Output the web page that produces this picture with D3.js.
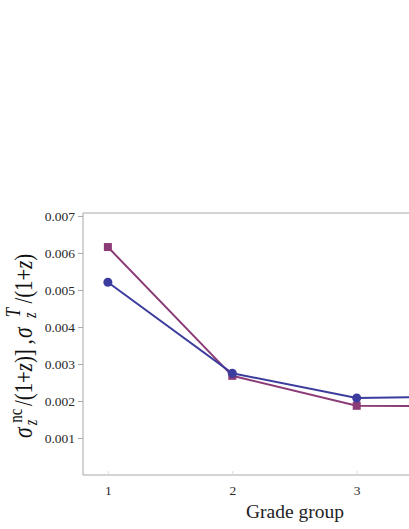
<!DOCTYPE html>
<html>
<head>
<meta charset="utf-8">
<script src="https://cdn.jsdelivr.net/npm/d3@7"></script>
<style>
    body { margin: 0; background: #fff; overflow: hidden; }
    svg { display: block; }
</style>
</head>
<body>
<div id="chart"></div>
<script>
// data
let grades = [1, 2, 3, 4];
let sigmaNC = [0.00521, 0.00275, 0.00208, 0.00213];   // blue, circles
let sigmaT = [0.00616, 0.00268, 0.00187, 0.00186];    // purple, squares
let yTicks = [0.001, 0.002, 0.003, 0.004, 0.005, 0.006, 0.007];
let xTicks = [1, 2, 3];

let width = 409, height = 529;
let serif = "Liberation Serif, DejaVu Serif, serif";

let svg = d3.select("#chart").append("svg")
    .attr("width", width)
    .attr("height", height);

// scales (plot runs past the right edge of the window, as in the original)
let x = d3.scaleLinear().domain([0.8, 4.2]).range([83, 506]);
let y = d3.scaleLinear().domain([0, 0.00708]).range([475, 213]);

let frameColor = "#a8a8a8";

// frame: left, bottom, top
svg.append("line").attr("x1", 83).attr("x2", 83).attr("y1", y(0)).attr("y2", y(0.00708))
    .attr("stroke", frameColor).attr("stroke-width", 1);
svg.append("line").attr("x1", 83).attr("x2", x(4.2)).attr("y1", y(0)).attr("y2", y(0))
    .attr("stroke", frameColor).attr("stroke-width", 1);
svg.append("line").attr("x1", 83).attr("x2", x(4.2)).attr("y1", y(0.00708)).attr("y2", y(0.00708))
    .attr("stroke", frameColor).attr("stroke-width", 1);

// y axis
let yAxis = d3.axisLeft(y)
    .tickValues(yTicks)
    .tickSize(5)
    .tickPadding(3)
    .tickFormat(d3.format(".3f"));

let yg = svg.append("g")
    .attr("transform", "translate(83,0)")
    .call(yAxis)
    .attr("font-family", serif);
yg.select(".domain").remove();
yg.selectAll(".tick line").attr("stroke", frameColor);
yg.selectAll(".tick text").attr("font-family", serif).attr("font-size", 13.5).attr("fill", "#2a2a2a");

// x axis, ticks point inward
let xAxis = d3.axisBottom(x)
    .tickValues(xTicks)
    .tickSize(-4)
    .tickPadding(10)
    .tickFormat(d3.format("d"));

let xg = svg.append("g")
    .attr("transform", `translate(0,${y(0)})`)
    .call(xAxis)
    .attr("font-family", serif);
xg.select(".domain").remove();
xg.selectAll(".tick line").attr("stroke", "#ddd");
xg.selectAll(".tick text").attr("font-family", serif).attr("font-size", 13.5).attr("fill", "#2a2a2a");

// axis title
svg.append("text")
    .attr("x", 295)
    .attr("y", 518)
    .attr("text-anchor", "middle")
    .attr("font-family", serif)
    .attr("font-size", 19.5)
    .attr("fill", "#222")
    .text("Grade group");

// y label, rotated; pieces placed along the text direction
let lab = svg.append("g")
    .attr("transform", "translate(32,438) rotate(-90) scale(0.8,1)")
    .attr("font-family", serif)
    .attr("fill", "#111");

function piece(px, py, size, italic, txt) {
    return lab.append("text")
        .attr("x", px)
        .attr("y", py)
        .attr("font-size", size)
        .attr("font-style", italic ? "italic" : "normal")
        .text(txt);
}

piece(0, 0, 27, true, "σ");
piece(19, -10, 19, false, "nc");
piece(16, 5, 18, true, "z");
let t1 = piece(40, 0, 26, false, "/(1+");
t1.append("tspan").attr("font-style", "italic").text("z");
t1.append("tspan").text(")]");
piece(117, 0, 26, false, ",");
piece(125, 0, 27, true, "σ");
piece(151, -12, 21, true, "T");
piece(150, 4, 18, true, "z");
let t2 = piece(168, 0, 26, false, "/(1+");
t2.append("tspan").attr("font-style", "italic").text("z");
t2.append("tspan").text(")");

// series
let series = [
    {name: "T", values: sigmaT, color: "#8b3b76", shape: "square"},
    {name: "nc", values: sigmaNC, color: "#3c3c9e", shape: "circle"}
];

let line = d3.line()
    .x((d, i) => x(grades[i]))
    .y(d => y(d));

series.forEach(s => {
    svg.append("path")
        .datum(s.values)
        .attr("fill", "none")
        .attr("stroke", s.color)
        .attr("stroke-width", 2)
        .attr("d", line);

    if (s.shape === "circle") {
        svg.selectAll(".pt-" + s.name)
            .data(s.values)
            .enter()
            .append("circle")
            .attr("class", "pt-" + s.name)
            .attr("cx", (d, i) => x(grades[i]))
            .attr("cy", d => y(d))
            .attr("r", 4.5)
            .attr("fill", s.color);
    } else {
        svg.selectAll(".pt-" + s.name)
            .data(s.values)
            .enter()
            .append("rect")
            .attr("class", "pt-" + s.name)
            .attr("x", (d, i) => x(grades[i]) - 4)
            .attr("y", d => y(d) - 4)
            .attr("width", 8)
            .attr("height", 8)
            .attr("fill", s.color);
    }
});
</script>
</body>
</html>
